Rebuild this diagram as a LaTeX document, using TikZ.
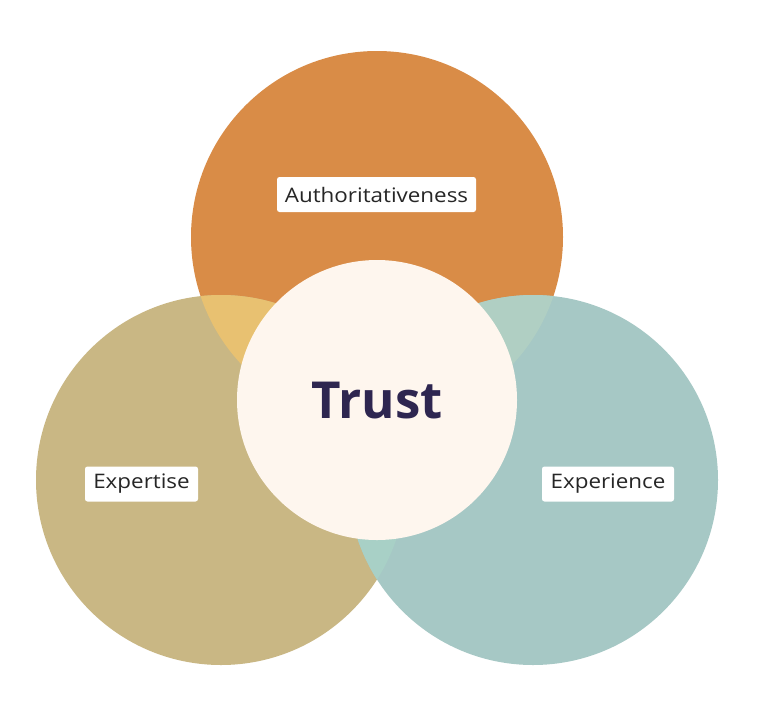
\documentclass[tikz,border=0pt]{standalone}
\usepackage{fontspec}
\setmainfont{Open Sans}
\newfontfamily\lblfont[FakeStretch=1.12]{Open Sans}
\definecolor{orangeC}{HTML}{D98C47}
\definecolor{tanC}{HTML}{C9B784}
\definecolor{tealC}{HTML}{A6C8C5}
\definecolor{ovTL}{HTML}{E8C171}
\definecolor{ovTR}{HTML}{B0CFC3}
\definecolor{ovB}{HTML}{A8D0C6}
\definecolor{centerC}{HTML}{FEF6EE}
\definecolor{trustC}{HTML}{2E2650}
\tikzset{
  labelbox/.style={fill=white, rounded corners=2.5pt, inner xsep=0pt, inner ysep=0pt, minimum height=35pt, font=\lblfont\fontsize{20}{22}\selectfont, text=black!85},
}
\begin{document}
\begin{tikzpicture}[x=1pt,y=-1pt]
\useasboundingbox (0,0) rectangle (760,710);
\fill[white] (0,0) rectangle (760,710);
% main circles
\fill[orangeC] (377,237) circle (186);
\fill[tanC] (221,480) circle (185);
\fill[tealC] (533,480) circle (185);
% overlaps
\begin{scope}
  \clip (377,237) circle (186);
  \fill[ovTL] (221,480) circle (185);
\end{scope}
\begin{scope}
  \clip (377,237) circle (186);
  \fill[ovTR] (533,480) circle (185);
\end{scope}
\begin{scope}
  \clip (221,480) circle (185);
  \fill[ovB] (533,480) circle (185);
\end{scope}
% center
\node[circle, fill=centerC, minimum size=280pt, inner sep=0pt] (trust) at (377,400) {};
\node[font=\fontsize{51}{56}\selectfont\bfseries, text=trustC] (trusttext) at (377,401) {Trust};
% labels
\node[labelbox, minimum width=199pt] (auth) at (376.5,194.5) {Authoritativeness};
\node[labelbox, minimum width=113pt] (exp) at (141.5,484) {Expertise};
\node[labelbox, minimum width=132pt] (expe) at (608,484) {Experience};
\end{tikzpicture}
\end{document}
